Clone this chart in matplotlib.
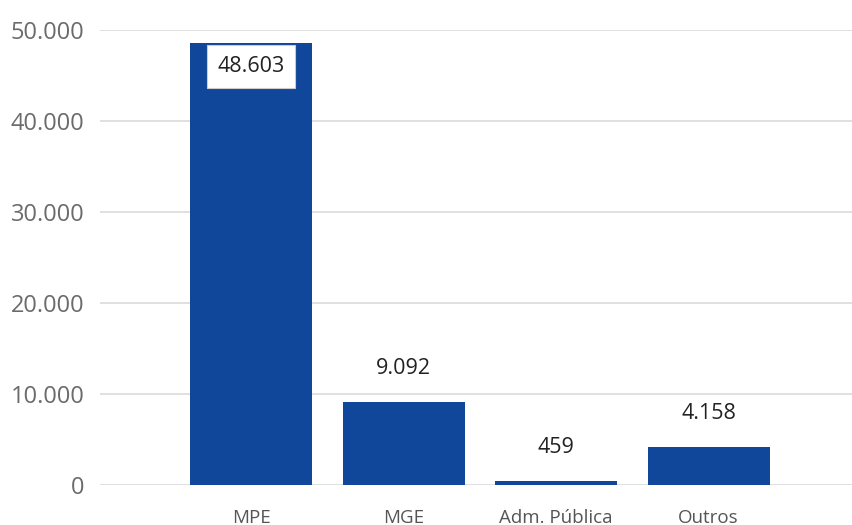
import matplotlib.pyplot as plt

categorias = ["MPE", "MGE", "Adm. Pública", "Outros"]
valores = [48603, 9092, 459, 4158]
yticks = [0, 10000, 20000, 30000, 40000, 50000]
ytick_labels = ["0", "10.000", "20.000", "30.000", "40.000", "50.000"]

plt.rcParams['font.family'] = ['Open Sans', 'DejaVu Sans']

fig = plt.figure(figsize=(8.52, 5.25), dpi=100)
ax = fig.add_axes([100/852, 1 - 485/525, 752/852, 455/525])

x = list(range(len(categorias)))
ax.bar(x, valores, width=0.8, color="#10479a", zorder=2)

ax.set_ylim(0, 50000)
ax.set_xlim(-0.99, 3.94)
ax.set_yticks(yticks)
ax.set_yticklabels(ytick_labels)
ax.set_xticks(x)
ax.set_xticklabels(categorias)
ax.tick_params(axis='y', length=0, pad=11, labelsize=17, labelcolor="#6b6b6b")
ax.tick_params(axis='x', length=0, pad=17, labelsize=13.5, labelcolor="#555555")
ax.grid(axis='y', color="#dddddd", linewidth=1.3, zorder=0)
for s in ax.spines.values():
    s.set_visible(False)

def fmt(v):
    return "{:,}".format(v).replace(",", ".")

for xi, v in zip(x, valores):
    if v > 40000:
        ax.annotate(fmt(v), (xi, v), xytext=(0, -17), textcoords="offset points",
                    ha="center", va="center", fontsize=15.5, color="#222222", zorder=4,
                    bbox=dict(boxstyle="square,pad=0.5", fc="white", ec="#cccccc", lw=0.8))
    else:
        ax.annotate(fmt(v), (xi, v), xytext=(0, 24), textcoords="offset points",
                    ha="center", va="center", fontsize=15.5, color="#222222", zorder=4,
                    bbox=dict(boxstyle="square,pad=0.25", fc="white", ec="none"))

fig.savefig("out.png", dpi=100)
